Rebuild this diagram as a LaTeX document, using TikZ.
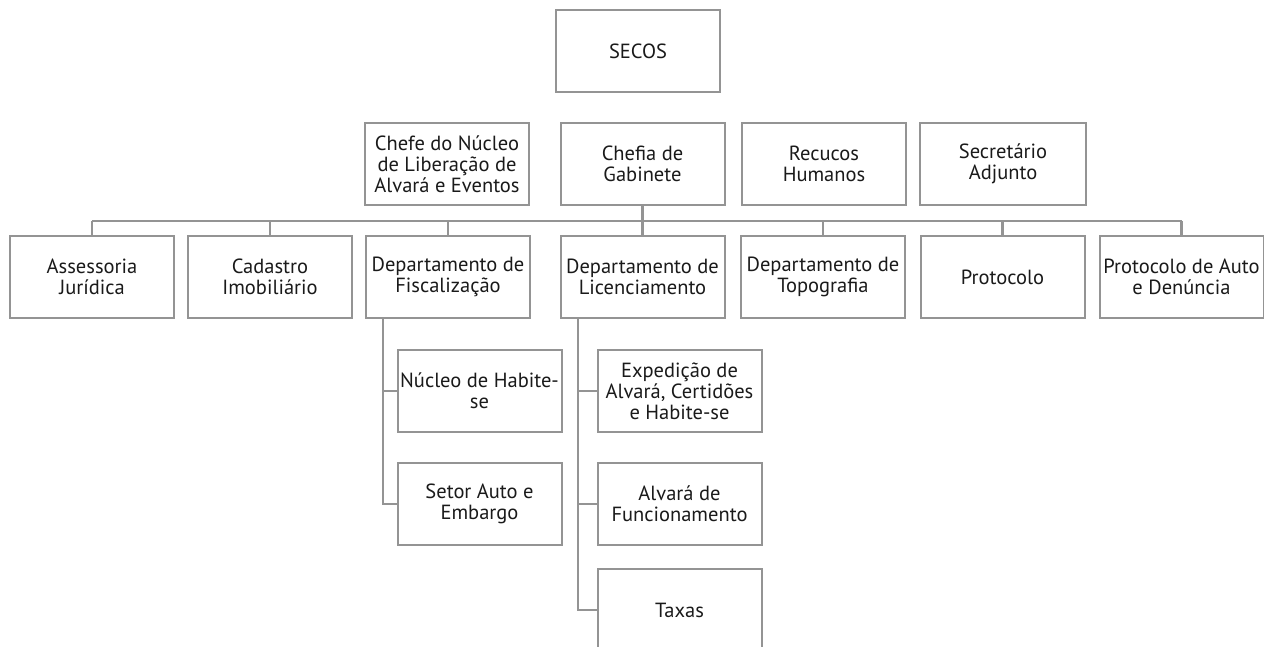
\documentclass[tikz,border=0pt]{standalone}
\usepackage{fontspec}
\setmainfont{PT Sans}
\begin{document}
\begin{tikzpicture}[x=1pt,y=-1pt,
  box/.style={draw=linegray, line width=2pt, fill=white, minimum width=164pt, minimum height=82pt,
    inner sep=1pt, align=center, text=txt, font=\fontsize{20.5}{21}\selectfont},
  conn/.style={draw=linegray, line width=2.2pt}]
\definecolor{linegray}{HTML}{949494}
\definecolor{txt}{HTML}{1A1A1A}
\useasboundingbox (0,0) rectangle (1264,647);
\clip (0,0) rectangle (1264,647);
% coordinates
\coordinate (busy) at (0,221);
\coordinate (fiscx) at (383,0);
\coordinate (licx) at (578,0);
% top
\node[box] (secos) at (638,51) {SECOS};
\node[box] (chefe) at (447,164) {Chefe do Núcleo\\de Liberação de\\Alvará e Eventos};
\node[box] (chefia) at (642.5,164) {Chefia de\\Gabinete};
\node[box] (rh) at (824,164) {Recucos\\Humanos};
\node[box, minimum width=166pt] (sec) at (1003,164) {Secretário\\Adjunto};
% row 3
\node[box] (ass) at (92,277) {Assessoria\\Jurídica};
\node[box] (cad) at (270,277) {Cadastro\\Imobiliário};
\node[box] (fisc) at (448,277) {Departamento de\\Fiscalização};
\node[box] (lic) at (642.5,277) {Departamento de\\Licenciamento};
\node[box] (topo) at (823,277) {Departamento de\\Topografia};
\node[box] (prot) at (1002.5,277) {Protocolo};
\node[box] (pauto) at (1181.5,277) {Protocolo de Auto\\e Denúncia};
% sub
\node[box] (nuc) at (479.5,391) {Núcleo de Habite-\\se};
\node[box] (setor) at (479.5,504) {Setor Auto e\\Embargo};
\node[box] (exp) at (679.5,391) {Expedição de\\Alvará, Certidões\\e Habite-se};
\node[box] (alv) at (679.5,504) {Alvará de\\Funcionamento};
\node[box] (tax) at (679.5,610) {Taxas};
% connectors
\draw[conn] (chefia.south) -- (chefia.south |- busy);
\draw[conn] (ass.north |- busy) -- (pauto.north |- busy);
\foreach \n in {ass,cad,fisc,lic,topo,prot,pauto}
  \draw[conn] (\n.north) -- (\n.north |- busy);
\draw[conn] (fisc.south -| fiscx) |- (setor.west);
\draw[conn] (nuc.west) -- (nuc.west -| fiscx);
\draw[conn] (lic.south -| licx) |- (tax.west);
\draw[conn] (exp.west) -- (exp.west -| licx);
\draw[conn] (alv.west) -- (alv.west -| licx);
\end{tikzpicture}
\end{document}
